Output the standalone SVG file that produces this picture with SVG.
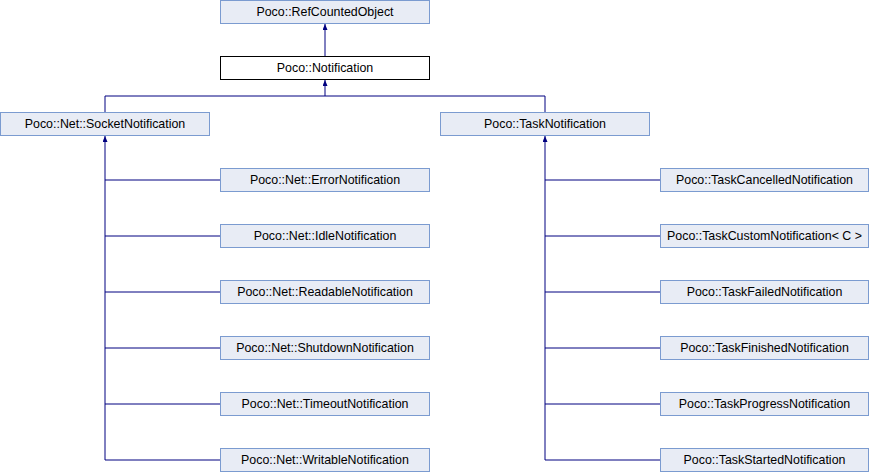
<svg xmlns="http://www.w3.org/2000/svg" width="870" height="472" viewBox="0 0 870 472">
<style>
.n{fill:#e8ecf5;stroke:#7b9bd0;stroke-width:1}
.w{fill:#ffffff;stroke:#000000;stroke-width:1}
.t{font-family:"Liberation Sans",Arial,sans-serif;font-size:12.4px;fill:#000000;text-anchor:middle}
.e{fill:none;stroke:#000080;stroke-width:1}
</style>
<defs>
<marker id="a" markerWidth="5" markerHeight="6" refX="2.5" refY="0" orient="0" markerUnits="userSpaceOnUse" viewBox="0 0 5 6">
<path d="M0,6 L2.5,0 L5,6 Z" fill="#000080"/>
</marker>
</defs>
<rect width="870" height="472" fill="#ffffff"/>
<g id="edges">
<path class="e" d="M325,56 V24" marker-end="url(#a)"/>
<path class="e" d="M105,112 V96 H545 V112"/>
<path class="e" d="M325,96 V80" marker-end="url(#a)"/>
<path class="e" d="M105,460 V136" marker-end="url(#a)"/>
<path class="e" d="M105,180 H220 M105,236 H220 M105,292 H220 M105,348 H220 M105,404 H220 M105,460 H220"/>
<path class="e" d="M545,460 V136" marker-end="url(#a)"/>
<path class="e" d="M545,180 H660 M545,236 H660 M545,292 H660 M545,348 H660 M545,404 H660 M545,460 H660"/>
</g>
<g id="RefCountedObject"><rect class="n" x="220.5" y="0.5" width="209" height="23"/><text class="t" x="325" y="16">Poco::RefCountedObject</text></g>
<g id="Notification"><rect class="w" x="220.5" y="56.5" width="209" height="23"/><text class="t" x="325" y="72">Poco::Notification</text></g>
<g id="SocketNotification"><rect class="n" x="0.5" y="112.5" width="209" height="23"/><text class="t" x="105" y="128">Poco::Net::SocketNotification</text></g>
<g id="TaskNotification"><rect class="n" x="440.5" y="112.5" width="209" height="23"/><text class="t" x="545" y="128">Poco::TaskNotification</text></g>
<g id="ErrorNotification"><rect class="n" x="220.5" y="168.5" width="209" height="23"/><text class="t" x="325" y="184">Poco::Net::ErrorNotification</text></g>
<g id="IdleNotification"><rect class="n" x="220.5" y="224.5" width="209" height="23"/><text class="t" x="325" y="240">Poco::Net::IdleNotification</text></g>
<g id="ReadableNotification"><rect class="n" x="220.5" y="280.5" width="209" height="23"/><text class="t" x="325" y="296">Poco::Net::ReadableNotification</text></g>
<g id="ShutdownNotification"><rect class="n" x="220.5" y="336.5" width="209" height="23"/><text class="t" x="325" y="352">Poco::Net::ShutdownNotification</text></g>
<g id="TimeoutNotification"><rect class="n" x="220.5" y="392.5" width="209" height="23"/><text class="t" x="325" y="408">Poco::Net::TimeoutNotification</text></g>
<g id="WritableNotification"><rect class="n" x="220.5" y="448.5" width="209" height="23"/><text class="t" x="325" y="464">Poco::Net::WritableNotification</text></g>
<g id="TaskCancelledNotification"><rect class="n" x="660.5" y="168.5" width="208" height="23"/><text class="t" x="764.5" y="184">Poco::TaskCancelledNotification</text></g>
<g id="TaskCustomNotification"><rect class="n" x="660.5" y="224.5" width="208" height="23"/><text class="t" x="764.5" y="240">Poco::TaskCustomNotification&lt; C &gt;</text></g>
<g id="TaskFailedNotification"><rect class="n" x="660.5" y="280.5" width="208" height="23"/><text class="t" x="764.5" y="296">Poco::TaskFailedNotification</text></g>
<g id="TaskFinishedNotification"><rect class="n" x="660.5" y="336.5" width="208" height="23"/><text class="t" x="764.5" y="352">Poco::TaskFinishedNotification</text></g>
<g id="TaskProgressNotification"><rect class="n" x="660.5" y="392.5" width="208" height="23"/><text class="t" x="764.5" y="408">Poco::TaskProgressNotification</text></g>
<g id="TaskStartedNotification"><rect class="n" x="660.5" y="448.5" width="208" height="23"/><text class="t" x="764.5" y="464">Poco::TaskStartedNotification</text></g>
</svg>
